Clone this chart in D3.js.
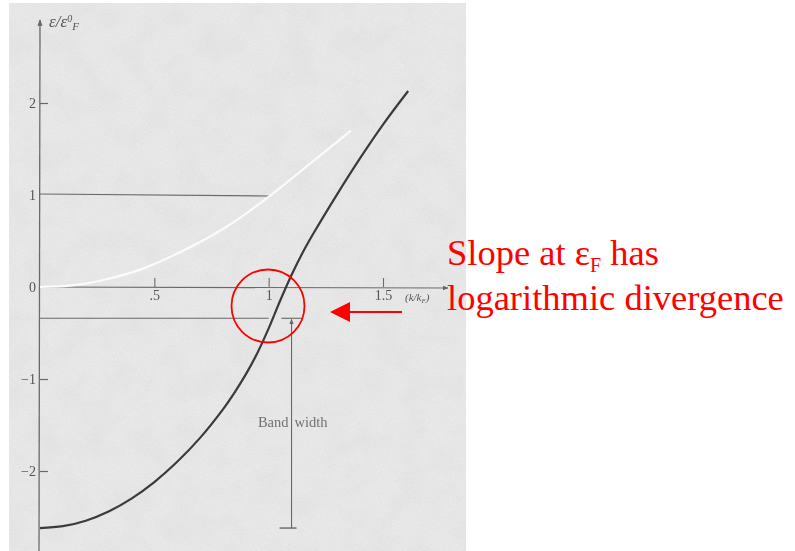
<!DOCTYPE html>
<html>
<head>
<meta charset="utf-8">
<script src="https://cdn.jsdelivr.net/npm/d3@7"></script>
<style>
  html, body { margin: 0; padding: 0; background: #ffffff; }
  svg { display: block; }
</style>
</head>
<body>
<svg id="chart" width="795" height="551"></svg>
<script>
// Hartree-Fock single-particle energy vs. free-electron energy, in units of the Fermi energy
const hfK      = [0, 0.1, 0.2, 0.3, 0.4, 0.5, 0.6, 0.7, 0.8, 0.85, 0.9, 0.95, 1.0, 1.05, 1.1, 1.15, 1.2, 1.3, 1.4, 1.5, 1.61];
const hfEnergy = [-2.62, -2.60, -2.54, -2.44, -2.30, -2.12, -1.90, -1.64, -1.33, -1.15, -0.95, -0.72, -0.45, -0.15, 0.13, 0.38, 0.60, 1.01, 1.40, 1.765, 2.13];

const freeK      = [0, 0.15, 0.3, 0.45, 0.614, 0.8, 1.0, 1.2, 1.36];
const freeEnergy = [0, 0.02, 0.09, 0.2, 0.38, 0.63, 0.98, 1.38, 1.70];

const yTicks = [2, 1, 0, -1, -2];
const yTickLabels = ["2", "1", "0", "\u22121", "\u22122"];
const xTicks = [0.5, 1, 1.5];
const xTickLabels = [".5", "1", "1.5"];

const fermiLevel = 1.0;          // free-electron energy at k = kF
const hfFermiLevel = -0.34;      // Hartree-Fock energy at k = kF
const guideEndK = 1.0;
const bandK = 1.10;
const bandTop = -0.34;
const bandBottom = -2.62;

const svg = d3.select("#chart");
const x = d3.scaleLinear().domain([0, 1.5]).range([40, 383]);
const y = d3.scaleLinear().domain([0, 2]).range([287, 103]);

const defs = svg.append("defs");
const grain = defs.append("filter").attr("id", "grain")
  .attr("x", 0).attr("y", 0).attr("width", "100%").attr("height", "100%");
grain.append("feTurbulence").attr("type", "fractalNoise")
  .attr("baseFrequency", 0.75).attr("numOctaves", 2).attr("seed", 7);
grain.append("feColorMatrix").attr("type", "matrix")
  .attr("values", "0 0 0 0 0.5  0 0 0 0 0.5  0 0 0 0 0.5  0.4 0 0 0 -0.15");
const blotch = defs.append("filter").attr("id", "blotch")
  .attr("x", 0).attr("y", 0).attr("width", "100%").attr("height", "100%");
blotch.append("feTurbulence").attr("type", "fractalNoise")
  .attr("baseFrequency", 0.035).attr("numOctaves", 3).attr("seed", 2);
blotch.append("feColorMatrix").attr("type", "matrix")
  .attr("values", "0 0 0 0 0.6  0 0 0 0 0.6  0 0 0 0 0.6  0.3 0 0 0 -0.12");
const soft = defs.append("filter").attr("id", "soft");
soft.append("feGaussianBlur").attr("stdDeviation", 0.45);

defs.append("marker").attr("id", "tipGray")
  .attr("viewBox", "0 0 10 10").attr("refX", 9).attr("refY", 5)
  .attr("markerWidth", 5).attr("markerHeight", 5).attr("orient", "auto")
  .append("path").attr("d", "M0,1 L10,5 L0,9 Z").attr("fill", "#666");

// paper
svg.append("rect").attr("x", 9).attr("y", 3).attr("width", 457).attr("height", 548).attr("fill", "#e9e9e9");
svg.append("rect").attr("x", 9).attr("y", 3).attr("width", 457).attr("height", 548).attr("filter", "url(#blotch)");
svg.append("rect").attr("x", 9).attr("y", 3).attr("width", 457).attr("height", 548).attr("filter", "url(#grain)");

const plot = svg.append("g").attr("filter", "url(#soft)");

// axes
plot.append("line").attr("x1", x(0) - 1).attr("y1", 551).attr("x2", x(0)).attr("y2", 20)
  .attr("stroke", "#6a6a6a").attr("stroke-width", 1.3).attr("marker-end", "url(#tipGray)");
plot.append("line").attr("x1", x(0)).attr("y1", y(0)).attr("x2", 448).attr("y2", y(0) + 1)
  .attr("stroke", "#6a6a6a").attr("stroke-width", 1.2).attr("marker-end", "url(#tipGray)");

const yAxis = d3.axisLeft(y).tickValues(yTicks).tickSize(-8).tickPadding(4)
  .tickFormat((d, i) => yTickLabels[i]);
const gy = plot.append("g").attr("transform", `translate(${x(0)},0)`).call(yAxis);
gy.select(".domain").remove();
gy.selectAll(".tick line").attr("stroke", "#6a6a6a").attr("stroke-width", 1.2);
gy.selectAll(".tick text").attr("fill", "#555").attr("font-family", "Liberation Serif, serif").attr("font-size", 14);
gy.selectAll(".tick").filter(d => d === 1 || d === 0).select("line").remove();

const xAxis = d3.axisBottom(x).tickValues(xTicks).tickSize(-9).tickPadding(3)
  .tickFormat((d, i) => xTickLabels[i]);
const gx = plot.append("g").attr("transform", `translate(0,${y(0)})`).call(xAxis);
gx.select(".domain").remove();
gx.selectAll(".tick line").attr("stroke", "#6a6a6a").attr("stroke-width", 1.1);
gx.selectAll(".tick text").attr("fill", "#555").attr("font-family", "Liberation Serif, serif").attr("font-size", 14);

// reference levels at k = kF
plot.append("line").attr("x1", x(0)).attr("x2", x(guideEndK))
  .attr("y1", y(fermiLevel) - 1).attr("y2", y(fermiLevel) + 1)
  .attr("stroke", "#6a6a6a").attr("stroke-width", 1.1);
plot.append("line").attr("x1", x(0)).attr("x2", x(guideEndK))
  .attr("y1", y(hfFermiLevel)).attr("y2", y(hfFermiLevel))
  .attr("stroke", "#6a6a6a").attr("stroke-width", 1.1);

const line = d3.line().curve(d3.curveCatmullRom.alpha(0.5)).x(d => x(d[0])).y(d => y(d[1]));

// free-electron parabola
plot.append("path").datum(d3.zip(freeK, freeEnergy)).attr("d", line)
  .attr("fill", "none").attr("stroke", "#fbfbfb").attr("stroke-width", 2.2);

// Hartree-Fock curve
plot.append("path").datum(d3.zip(hfK, hfEnergy)).attr("d", line)
  .attr("fill", "none").attr("stroke", "#3a3a3a").attr("stroke-width", 2.2);

// band width marker
plot.append("line").attr("x1", x(bandK)).attr("x2", x(bandK))
  .attr("y1", y(bandBottom)).attr("y2", y(bandTop) + 1)
  .attr("stroke", "#666").attr("stroke-width", 1.1).attr("marker-end", "url(#tipGray)");
plot.append("line").attr("x1", x(bandK) - 10).attr("x2", x(bandK) + 10)
  .attr("y1", y(bandTop)).attr("y2", y(bandTop))
  .attr("stroke", "#666").attr("stroke-width", 1.1);
plot.append("line").attr("x1", x(bandK) - 12).attr("x2", x(bandK) + 5)
  .attr("y1", y(bandBottom)).attr("y2", y(bandBottom))
  .attr("stroke", "#666").attr("stroke-width", 1.4);
plot.append("text").attr("x", x(bandK) - 3).attr("y", 427).attr("text-anchor", "end")
  .attr("fill", "#707070").attr("font-family", "Liberation Serif, serif").attr("font-size", 14.5)
  .text("Band");
plot.append("text").attr("x", x(bandK) + 3).attr("y", 427)
  .attr("fill", "#707070").attr("font-family", "Liberation Serif, serif").attr("font-size", 14.5)
  .text("width");

// axis titles
const yTitle = plot.append("text").attr("x", 49).attr("y", 27)
  .attr("fill", "#555").attr("font-family", "Liberation Serif, serif")
  .attr("font-style", "italic").attr("font-size", 17);
yTitle.append("tspan").text("\u03b5/\u03b5");
yTitle.append("tspan").attr("dy", -5).attr("font-size", 10).text("0");
yTitle.append("tspan").attr("dy", 8).attr("font-size", 11).text("F");

const xTitle = plot.append("text").attr("x", 405).attr("y", 301)
  .attr("fill", "#555").attr("font-family", "Liberation Serif, serif")
  .attr("font-style", "italic").attr("font-size", 11);
xTitle.append("tspan").text("(k/k");
xTitle.append("tspan").attr("dy", 2).attr("font-size", 7).text("F");
xTitle.append("tspan").attr("dy", -2).text(")");

// annotation
svg.append("circle").attr("cx", 268).attr("cy", 306).attr("r", 36.5)
  .attr("fill", "none").attr("stroke", "#ff0000").attr("stroke-width", 1.8);
svg.append("line").attr("x1", 402).attr("x2", 348).attr("y1", 312).attr("y2", 312)
  .attr("stroke", "#ff0000").attr("stroke-width", 2);
svg.append("path").attr("d", "M330,312 L350,302 L350,322 Z").attr("fill", "#ff0000");

const note1 = svg.append("text").attr("x", 447).attr("y", 265)
  .attr("fill", "#ff0000").attr("font-family", "Liberation Serif, Times New Roman, serif").attr("font-size", 36.5);
note1.append("tspan").text("Slope at \u03b5");
note1.append("tspan").attr("dy", 7).attr("font-size", 20).text("F");
note1.append("tspan").attr("dy", -7).text(" has");
svg.append("text").attr("x", 447).attr("y", 310)
  .attr("fill", "#ff0000").attr("font-family", "Liberation Serif, Times New Roman, serif").attr("font-size", 36.5)
  .text("logarithmic divergence");
</script>
</body>
</html>
